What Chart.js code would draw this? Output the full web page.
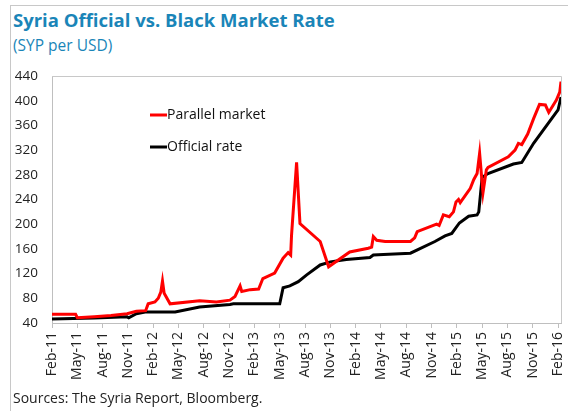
<!DOCTYPE html>
<html>
<head>
<meta charset="utf-8">
<script src="https://cdn.jsdelivr.net/npm/chart.js@4.4.0/dist/chart.umd.min.js"></script>
<style>
  html, body { margin: 0; padding: 0; background: #fff; }
  #wrap { position: relative; width: 568px; height: 411px; overflow: hidden; }
  #frame { position: absolute; left: 10px; top: 5px; width: 600px; height: 500px; border-left: 1px solid #c8c8c8; border-top: 1px solid #c8c8c8; }
  #title { position: absolute; left: 13px; top: 7px; font-family: "Open Sans", sans-serif; font-weight: bold; font-size: 18.5px; color: #1A85B8; white-space: nowrap; }
  #subtitle { position: absolute; left: 13px; top: 34px; font-family: "Open Sans", sans-serif; font-size: 15.5px; color: #1A85B8; white-space: nowrap; }
  #source { position: absolute; left: 13px; top: 388px; font-family: "Open Sans", sans-serif; font-size: 14px; color: #222; white-space: nowrap; }
  canvas { position: absolute; left: 0; top: 0; }
</style>
</head>
<body>
<div id="wrap">
  <div id="frame"></div>
  <div id="title">Syria Official vs. Black Market Rate</div>
  <div id="subtitle">(SYP per USD)</div>
  <canvas id="c" width="568" height="411"></canvas>
  <div id="source">Sources: The Syria Report, Bloomberg.</div>
</div>
<script>
// Tick labels every 3 months, starting Feb-11 (month index 0)
const tickLabels = ["Feb-11","May-11","Aug-11","Nov-11","Feb-12","May-12","Aug-12","Nov-12",
  "Feb-13","May-13","Aug-13","Nov-13","Feb-14","May-14","Aug-14","Nov-14",
  "Feb-15","May-15","Aug-15","Nov-15","Feb-16"];

// Parallel market: months since Feb-11, SYP per USD
const parallelMonths = [0,2.8,3.0,5,7,8.9,10,11.1,11.4,12.2,12.6,12.9,13.1,13.3,14,17.5,19.5,21.1,21.7,22.3,22.5,23.5,24.5,25,26.4,27.4,28,28.3,28.4,29.0,29.4,31.8,32.8,35.3,37.5,37.9,38.1,38.5,39.5,42.5,43.0,43.3,45.6,45.9,46.4,47.1,47.6,47.9,48.2,48.4,49.6,50.0,50.4,50.7,51.1,51.5,51.7,54.1,54.9,55.3,55.7,56.4,57.1,57.8,58.5,58.9,59.8,60.2,60.35];
const parallelValues = [54,54,48.5,50,52,55,59,60,71,74,80,90,108,88,71,76,74,77,83,100,91,94,95,112,121,145,154,150,182,300,201,172,131,155,161,163,180,174,172,172,178,188,200,198,215,212,220,236,240,235,258,272,282,315,251,288,292,309,320,331,329,346,371,394,393,381,401,414,431];

// Official rate
const officialMonths = [0,5,8.9,9.1,10,11.2,14.6,17.5,21.1,21.5,27.0,27.4,28.2,29.2,30.2,31.8,33,34.9,37.7,38.1,39.3,42.5,45.4,46.6,47.4,48.3,49.4,50.4,50.6,51.0,51.7,54.7,55.7,57.1,60.0,60.35];
const officialValues = [46.5,48,50,48.5,55,58,58,66,70,71,71,97,100,107,118,134,139,143,146,150,151,153,172,181,185,202,213,215,220,276,282,297.5,300,331,385,406];

const seriesNames = ["Parallel market", "Official rate"];
const seriesColors = ["#FF0000", "#000000"];

const toXY = (xs, ys) => xs.map((x, i) => ({ x: x, y: ys[i] }));

const frameAndLegend = {
  id: 'frameAndLegend',
  beforeDatasetsDraw(chart) {
    const { ctx, chartArea: a } = chart;
    ctx.save();
    ctx.strokeStyle = '#c8c8c8';
    ctx.lineWidth = 1;
    ctx.beginPath();
    ctx.moveTo(a.left, a.top + 0.5);
    ctx.lineTo(a.right + 0.5, a.top + 0.5);
    ctx.lineTo(a.right + 0.5, a.bottom);
    ctx.stroke();
    ctx.restore();
  },
  afterDraw(chart) {
    const { ctx, chartArea: a } = chart;
    ctx.save();
    ctx.font = '14px "Open Sans", sans-serif';
    ctx.textBaseline = 'middle';
    const ys = [a.top + 39, a.top + 71];
    chart.data.datasets.forEach((ds, i) => {
      const y = ys[i];
      const x0 = a.left + 98;
      ctx.strokeStyle = ds.borderColor;
      ctx.lineWidth = 3;
      ctx.beginPath();
      ctx.moveTo(x0, y);
      ctx.lineTo(x0 + 17, y);
      ctx.stroke();
      ctx.fillStyle = '#111';
      ctx.fillText(ds.label, x0 + 17, y);
    });
    ctx.restore();
  }
};

new Chart(document.getElementById('c'), {
  type: 'line',
  data: {
    datasets: [
      { label: seriesNames[0], data: toXY(parallelMonths, parallelValues), borderColor: seriesColors[0], backgroundColor: seriesColors[0], borderWidth: 3, pointRadius: 0, tension: 0, fill: false },
      { label: seriesNames[1], data: toXY(officialMonths, officialValues), borderColor: seriesColors[1], backgroundColor: seriesColors[1], borderWidth: 3, pointRadius: 0, tension: 0, fill: false }
    ]
  },
  options: {
    responsive: false,
    animation: false,
    layout: { padding: { left: 0, top: 76, right: 7, bottom: 0 } },
    plugins: { legend: { display: false }, tooltip: { enabled: false }, title: { display: false } },
    scales: {
      x: {
        type: 'linear',
        min: 0,
        max: 60.35,
        afterBuildTicks: (s) => { s.ticks = tickLabels.map((l, i) => ({ value: i * 3 })); },
        afterFit: (s) => { s.height = 88; s.paddingLeft = 0; s.paddingRight = 0; },
        ticks: {
          callback: (v) => tickLabels[Math.round(v / 3)],
          minRotation: 90, maxRotation: 90, autoSkip: false,
          padding: 4,
          color: '#222',
          font: { family: '"Open Sans", sans-serif', size: 14 }
        },
        grid: { display: true, drawOnChartArea: false, drawTicks: true, tickLength: 5, color: '#bfbfbf' },
        border: { display: true, color: '#bfbfbf', width: 1 }
      },
      y: {
        min: 40,
        max: 440,
        afterFit: (s) => { s.width = 52; s.paddingTop = 0; s.paddingBottom = 0; },
        ticks: {
          stepSize: 40,
          padding: 14,
          color: '#222',
          font: { family: '"Open Sans", sans-serif', size: 13.5 }
        },
        grid: { display: false, drawTicks: false },
        border: { display: true, color: '#bfbfbf', width: 1 }
      }
    }
  },
  plugins: [frameAndLegend]
});
</script>
</body>
</html>
